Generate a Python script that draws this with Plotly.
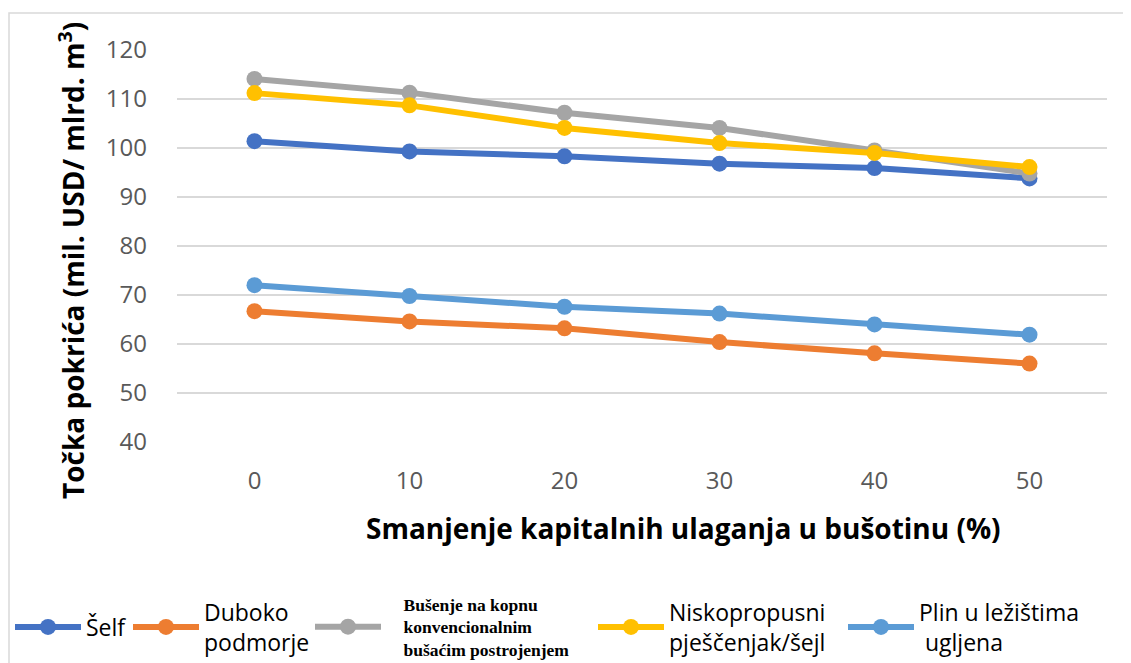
import plotly.graph_objects as go

x_labels = ["0", "10", "20", "30", "40", "50"]
selff = [101.4, 99.3, 98.3, 96.8, 95.9, 93.8]
duboko = [66.7, 64.6, 63.2, 60.4, 58.1, 56.0]
busenje = [114.1, 111.3, 107.2, 104.1, 99.5, 94.8]
nisko = [111.2, 108.7, 104.1, 101.0, 99.0, 96.1]
plin = [72.0, 69.8, 67.6, 66.2, 64.0, 61.9]

PAD = "\u00a0\u00a0\u00a0\u00a0"
names = ["Šelf", "Duboko<br>podmorje",
         "<b>" + PAD + "Bušenje na kopnu<br>" + PAD + "konvencionalnim<br>" + PAD + "bušaćim postrojenjem</b>",
         "Niskopropusni<br>pješčenjak/šejl", "Plin u ležištima<br> ugljena"]
values = [selff, duboko, busenje, nisko, plin]
colors = ["#4472C4", "#ED7D31", "#A5A5A5", "#FFC000", "#5B9BD5"]
legend_ids = ["legend", "legend2", "legend3", "legend4", "legend5"]
x_title = "<b>Smanjenje kapitalnih ulaganja u bušotinu (%)</b>"
y_title = "<b>Točka pokrića (mil. USD/ mlrd. m<sup>3</sup>)</b>"

# the page body adds an 8px offset; work in window pixels and subtract it
OFF = 8
W, H = 1131 - OFF, 663 - OFF
plot_left, plot_right, plot_top, plot_bottom = 177, 1107, 50, 442
L = plot_left - OFF
R = W - (plot_right - OFF)
T = plot_top - OFF
B = H - (plot_bottom - OFF)
pw = plot_right - plot_left
ph = plot_bottom - plot_top

legend_left_px = [10, 128, 310, 593, 843]
legend_center_y = 627

fig = go.Figure()
for name, vals, col, lid in zip(names, values, colors, legend_ids):
    fig.add_trace(go.Scatter(
        x=x_labels, y=vals, name=name, mode="lines+markers",
        line=dict(color=col, width=6),
        marker=dict(color=col, size=16),
        cliponaxis=False, legend=lid,
    ))

FONT = "Open Sans, Lato, sans-serif"
legends = {}
for i, lid in enumerate(legend_ids):
    d = dict(orientation="h", xref="container", yref="container",
             yanchor="middle", xanchor="left", valign="middle",
             itemwidth=66, bgcolor="rgba(0,0,0,0)", borderwidth=0)
    d["x"] = (legend_left_px[i] - OFF) / W
    d["y"] = (H - (legend_center_y - OFF)) / H
    if i == 2:
        d["font"] = dict(size=17.5, family="Liberation Serif, serif", color="#000000")
    else:
        d["font"] = dict(size=23, family=FONT, color="#000000")
    legends[lid] = d

fig.update_layout(
    width=W, height=H,
    margin=dict(l=L, r=R, t=T, b=B),
    paper_bgcolor="white", plot_bgcolor="white",
    font=dict(family=FONT, color="#000000"),
    xaxis=dict(
        type="category", range=[-0.5, 5.5],
        showgrid=False, zeroline=False, showline=False,
        tickfont=dict(size=24, color="#595959"),
        ticklabelstandoff=22,
    ),
    yaxis=dict(
        range=[40, 120], dtick=10, tick0=40,
        showgrid=True, gridcolor="#D9D9D9", gridwidth=1.5,
        zeroline=False, showline=False,
        tickfont=dict(size=24, color="#595959"),
        ticklabelstandoff=29,
    ),
    showlegend=True,
    **legends,
)

# axis titles placed where the reference puts them
fig.add_annotation(text=x_title, xref="paper", yref="paper",
                   x=(683 - plot_left) / pw, y=(plot_bottom - 528) / ph,
                   xanchor="center", yanchor="middle", showarrow=False,
                   font=dict(size=28, color="#000000", family=FONT))
fig.add_annotation(text=y_title, xref="paper", yref="paper",
                   x=(72 - plot_left) / pw, y=(plot_bottom - 261) / ph,
                   xanchor="center", yanchor="middle", showarrow=False, textangle=-90,
                   font=dict(size=28, color="#000000", family=FONT))

# outer light border (top and left edges visible)
fig.add_shape(type="rect", xref="paper", yref="paper",
              x0=(OFF + 1 - plot_left) / pw, x1=(1131 + 10 - plot_left) / pw,
              y0=-(663 + 10 - plot_bottom) / ph, y1=1 + (plot_top - 13) / ph,
              line=dict(color="#D9D9D9", width=1.5), fillcolor="rgba(0,0,0,0)", layer="below")

fig.write_html("out.html")
